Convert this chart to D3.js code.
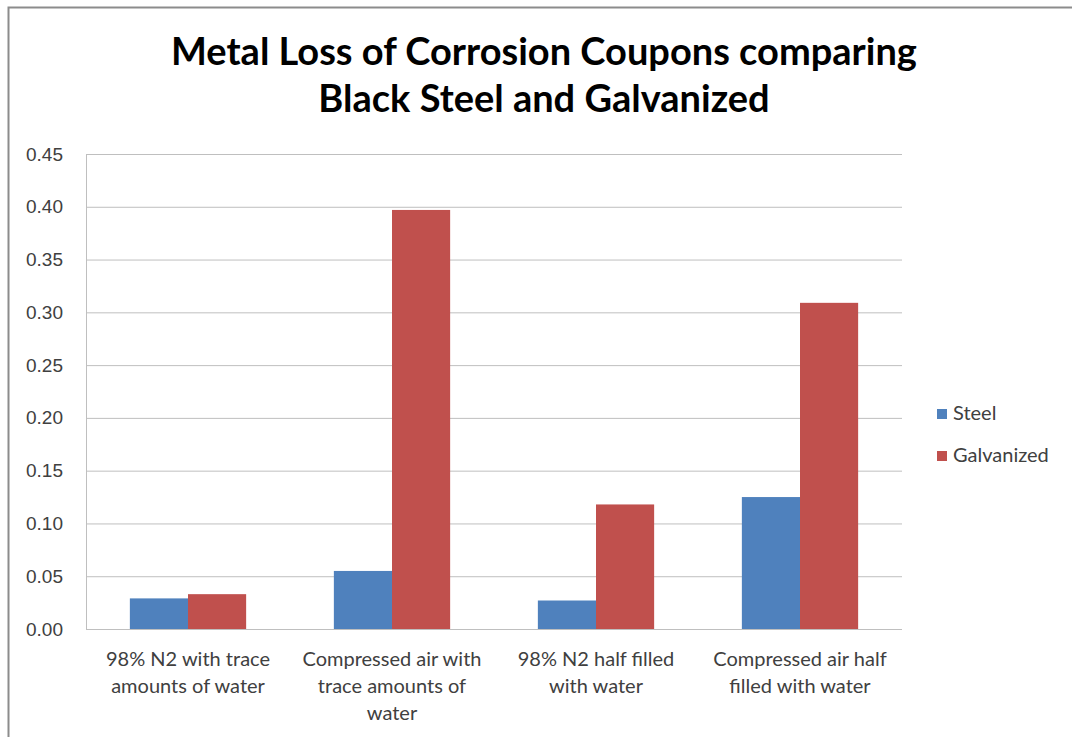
<!DOCTYPE html>
<html>
<head>
<meta charset="utf-8">
<script src="https://cdn.jsdelivr.net/npm/d3@7"></script>
<style>
  body { margin: 0; background: #fff; }
  svg { display: block; font-family: Lato, "Open Sans", sans-serif; }
  .tick text { fill: #404040; font-size: 19px; }
  .grid line { stroke: #bfbfbf; }
  .grid path { display: none; }
</style>
</head>
<body>
<div id="chart"></div>
<script>
// chart data
const categories = [
  ['98% N2 with trace', 'amounts of water'],
  ['Compressed air with', 'trace amounts of', 'water'],
  ['98% N2 half filled', 'with water'],
  ['Compressed air half', 'filled with water']
];
const seriesNames = ['Steel', 'Galvanized'];
const steelValues = [0.029, 0.055, 0.027, 0.125];
const galvanizedValues = [0.033, 0.397, 0.118, 0.309];
const yTicks = [0, 0.05, 0.10, 0.15, 0.20, 0.25, 0.30, 0.35, 0.40, 0.45];
const colors = ['#4f81bd', '#c0504d'];

const width = 1072, height = 737;
const margin = {top: 154, right: 170, bottom: 108, left: 86};
const innerW = width - margin.left - margin.right;
const innerH = height - margin.top - margin.bottom;

const svg = d3.select('#chart').append('svg')
    .attr('width', width)
    .attr('height', height);

// outer chart frame
svg.append('rect')
    .attr('x', 8.5).attr('y', 7.5)
    .attr('width', width + 10).attr('height', height + 10)
    .attr('fill', 'none')
    .attr('stroke', '#8c8c8c')
    .attr('stroke-width', 2);

// title
const title = svg.append('text')
    .attr('text-anchor', 'middle')
    .attr('font-weight', 'bold')
    .attr('font-size', 38)
    .attr('fill', '#000');
['Metal Loss of Corrosion Coupons comparing', 'Black Steel and Galvanized'].forEach((t, i) => {
  title.append('tspan')
      .attr('x', 544)
      .attr('y', 65 + i * 47)
      .text(t);
});

const chart = svg.append('g')
    .attr('transform', `translate(${margin.left},${margin.top})`);

const x0 = d3.scaleBand()
    .domain(d3.range(categories.length))
    .range([0, innerW])
    .paddingInner(0.43)
    .paddingOuter(0.215);

const x1 = d3.scaleBand()
    .domain(seriesNames)
    .range([0, x0.bandwidth()]);

const y = d3.scaleLinear()
    .domain([0, 0.45])
    .range([innerH, 0]);

// gridlines
chart.append('g')
    .attr('class', 'grid')
    .call(d3.axisLeft(y).tickValues(yTicks).tickSize(-innerW).tickFormat(''));

// y axis
const yAxis = chart.append('g')
    .attr('class', 'y-axis')
    .call(d3.axisLeft(y).tickValues(yTicks).tickSize(0).tickFormat(d3.format('.2f')));
yAxis.select('.domain').attr('stroke', '#bfbfbf');
yAxis.selectAll('.tick text').attr('x', -23);

// bars
const rows = categories.map((c, i) => ({i, values: [steelValues[i], galvanizedValues[i]]}));
chart.selectAll('.group')
    .data(rows)
  .join('g')
    .attr('class', 'group')
    .attr('transform', d => `translate(${x0(d.i)},0)`)
  .selectAll('rect')
    .data(d => d.values.map((v, k) => ({key: seriesNames[k], value: v, k})))
  .join('rect')
    .attr('x', d => x1(d.key))
    .attr('y', d => y(d.value))
    .attr('width', x1.bandwidth())
    .attr('height', d => innerH - y(d.value))
    .attr('fill', d => colors[d.k]);

// x axis
chart.append('line')
    .attr('x1', 0).attr('x2', innerW)
    .attr('y1', innerH + 0.5).attr('y2', innerH + 0.5)
    .attr('stroke', '#bfbfbf');

chart.selectAll('.x-label')
    .data(categories)
  .join('text')
    .attr('class', 'x-label')
    .attr('text-anchor', 'middle')
    .attr('font-size', 20)
    .attr('fill', '#404040')
    .each(function(lines, i) {
      d3.select(this).selectAll('tspan')
          .data(lines)
        .join('tspan')
          .attr('x', x0(i) + x0.bandwidth() / 2)
          .attr('y', (d, j) => innerH + 37 + j * 27)
          .text(d => d);
    });

// legend
const legend = svg.append('g')
    .attr('transform', 'translate(937,409)');
seriesNames.forEach((name, i) => {
  const g = legend.append('g').attr('transform', `translate(0,${i * 42})`);
  g.append('rect')
      .attr('width', 10).attr('height', 10)
      .attr('fill', colors[i]);
  g.append('text')
      .attr('x', 16).attr('y', 11)
      .attr('font-size', 20)
      .attr('fill', '#404040')
      .text(name);
});
</script>
</body>
</html>
